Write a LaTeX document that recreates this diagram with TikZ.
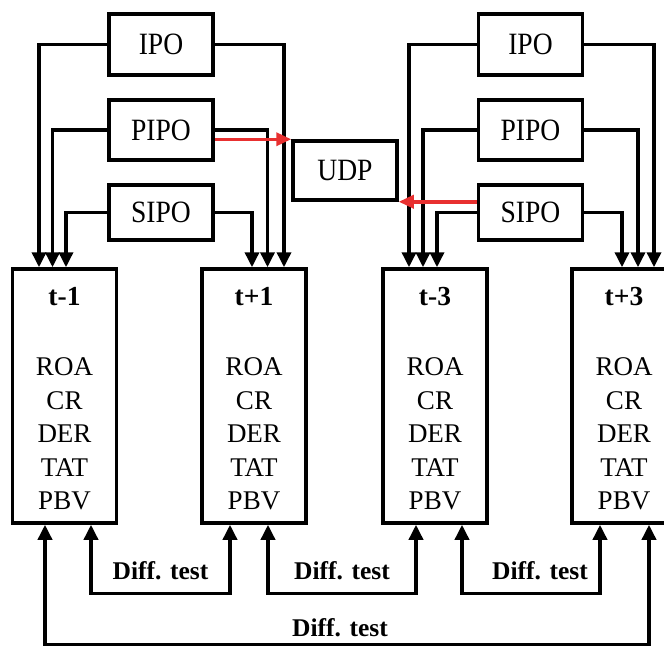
\documentclass[tikz,border=0pt]{standalone}
\usepackage{fontspec}
\setmainfont{Liberation Serif}
\newfontfamily\condfont[FakeStretch=0.89]{Liberation Serif}
\usetikzlibrary{arrows.meta}
\definecolor{arrred}{RGB}{232,48,48}
\begin{document}
\begin{tikzpicture}[x=1pt,y=-1pt,
  box/.style={draw, line width=3.5pt, inner sep=0pt, minimum width=104pt,
              font=\condfont\fontsize{31}{31}\selectfont},
  tbox/.style={draw, line width=3.5pt, inner sep=0pt, minimum width=104pt, minimum height=254pt},
  hdr/.style={inner sep=0pt, font=\bfseries\fontsize{27.5}{27.5}\selectfont},
  lst/.style={inner sep=0pt, align=center, font=\fontsize{27}{33.5}\selectfont},
  conn/.style={line width=3.5pt, -{Triangle[length=15pt,width=14pt]}},
  redarr/.style={line width=3.5pt, draw=arrred, -{Triangle[length=15pt,width=13pt]}, color=arrred},
  dt/.style={line width=3.5pt, {Triangle[length=15pt,width=14pt]}-{Triangle[length=15pt,width=14pt]}},
  lbl/.style={inner sep=0pt, font=\bfseries\fontsize{25.5}{25.5}\selectfont}]
\useasboundingbox (0,0) rectangle (664,646);
\clip (0,0) rectangle (664,646);

% left group
\node[box, minimum height=61pt] (ipoL)  at (161,44.5)  {IPO};
\node[box, minimum height=60pt] (pipoL) at (161,130)   {PIPO};
\node[box, minimum height=55pt] (sipoL) at (161,212.5) {SIPO};
% right group
\node[box, minimum height=61pt] (ipoR)  at (530.5,44.5)  {IPO};
\node[box, minimum height=60pt] (pipoR) at (530.5,130)   {PIPO};
\node[box, minimum height=55pt] (sipoR) at (530.5,212.5) {SIPO};
% UDP
\node[box, minimum height=59pt] (udp) at (345,170.5) {UDP};

% time boxes
\node[tbox] (t1) at (64.5,396) {};
\node[tbox] (t2) at (254,396) {};
\node[tbox] (t3) at (435,396) {};
\node[tbox] (t4) at (624,396) {};

\node[hdr] (t1h) at ([yshift=-29pt]t1.north) {t-1};
\node[hdr] (t2h) at ([yshift=-29pt]t2.north) {t+1};
\node[hdr] (t3h) at ([yshift=-29pt]t3.north) {t-3};
\node[hdr] (t4h) at ([yshift=-29pt]t4.north) {t+3};

\node[lst] (t1l) at ([yshift=-38pt]t1.center) {ROA\\CR\\DER\\TAT\\PBV};
\node[lst] (t2l) at ([yshift=-38pt]t2.center) {ROA\\CR\\DER\\TAT\\PBV};
\node[lst] (t3l) at ([yshift=-38pt]t3.center) {ROA\\CR\\DER\\TAT\\PBV};
\node[lst] (t4l) at ([yshift=-38pt]t4.center) {ROA\\CR\\DER\\TAT\\PBV};

% connectors, left group
\draw[conn] (ipoL.west)  -| ([xshift=-25.5pt]t1.north);
\draw[conn] (pipoL.west) -| ([xshift=-12pt]t1.north);
\draw[conn] (sipoL.west) -| ([xshift=1.5pt]t1.north);
\draw[conn] (ipoL.east)  -| ([xshift=30pt]t2.north);
\draw[conn] (pipoL.east) -| ([xshift=13.5pt]t2.north);
\draw[conn] (sipoL.east) -| ([xshift=-2pt]t2.north);
% connectors, right group
\draw[conn] (ipoR.west)  -| ([xshift=-26pt]t3.north);
\draw[conn] (pipoR.west) -| ([xshift=-12pt]t3.north);
\draw[conn] (sipoR.west) -| ([xshift=2pt]t3.north);
\draw[conn] (ipoR.east)  -| ([xshift=30pt]t4.north);
\draw[conn] (pipoR.east) -| ([xshift=14pt]t4.north);
\draw[conn] (sipoR.east) -| ([xshift=-2pt]t4.north);

% red arrows to UDP
\draw[redarr] (pipoL.east |- udp.north west) -- (udp.north west);
\draw[redarr] (sipoR.west |- udp.south east) -- (udp.south east);

% difference tests
\draw[dt] ([xshift=26.5pt]t1.south) -- ++(0,68.5)
  -| node[pos=0.25, lbl, above=12pt] (d1) {Diff. test} ([xshift=-24pt]t2.south);
\draw[dt] ([xshift=14pt]t2.south) -- ++(0,68.5)
  -| node[pos=0.25, lbl, above=12pt] (d2) {Diff. test} ([xshift=-19pt]t3.south);
\draw[dt] ([xshift=27pt]t3.south) -- ++(0,68.5)
  -| node[pos=0.25, lbl, above=12pt, xshift=9pt] (d3) {Diff. test} ([xshift=-24pt]t4.south);
\draw[dt] ([xshift=-19.5pt]t1.south) -- ++(0,119.5)
  -| node[pos=0.25, lbl, above=6pt, xshift=-7pt] (d4) {Diff. test} ([xshift=25pt]t4.south);
\end{tikzpicture}
\end{document}
